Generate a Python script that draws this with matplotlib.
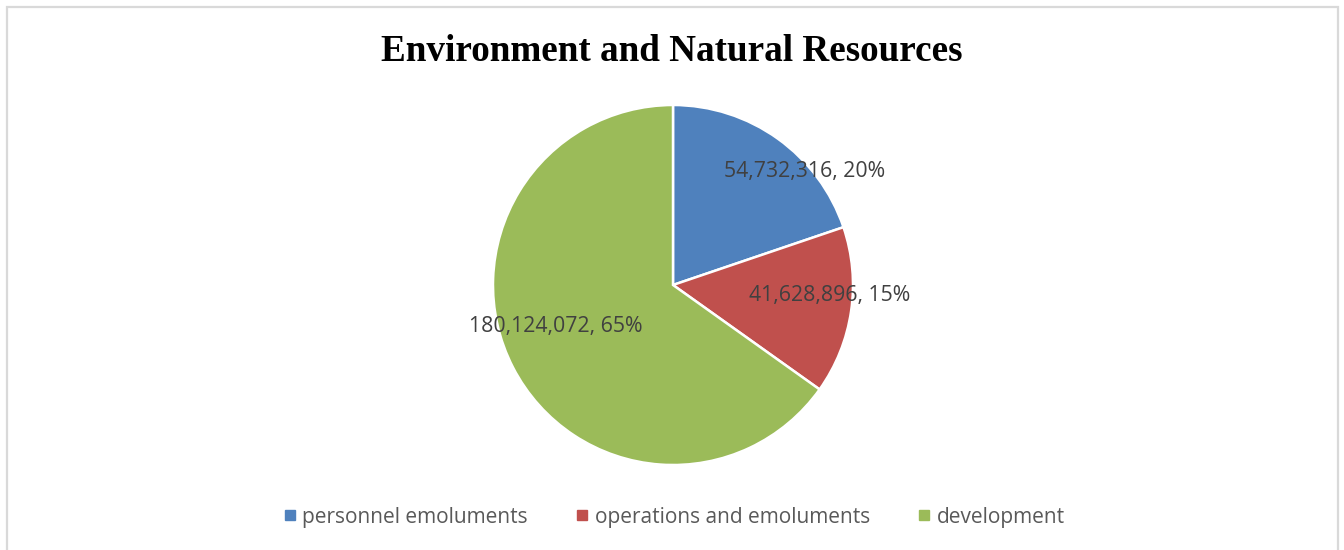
import matplotlib.pyplot as plt
from matplotlib.patches import Rectangle
from matplotlib.lines import Line2D

# Budget split for the sector
categories = ["personnel emoluments", "operations and emoluments", "development"]
amounts = [54732316, 41628896, 180124072]
percents = [20, 15, 65]
colors = ["#4F81BD", "#C0504D", "#9BBB59"]

# Where each data label sits, in units of the pie radius
label_xy = [(0.73, 0.63), (0.87, -0.06), (-0.65, -0.23)]

fig = plt.figure(figsize=(13.44, 5.5), dpi=100)

# light grey chart border (open at the bottom edge)
fig.patches.append(Rectangle((7 / 1344, -0.05), (1338 - 7) / 1344, 1.05 - 7 / 550,
                             transform=fig.transFigure, fill=False,
                             edgecolor="#d9d9d9", linewidth=1.6))

cx, cy, r = 673, 285, 180
ax = fig.add_axes([(cx - r) / 1344, (550 - cy - r) / 550, 2 * r / 1344, 2 * r / 550])
ax.pie(amounts, colors=colors, startangle=90, counterclock=False, radius=1,
       wedgeprops=dict(edgecolor="white", linewidth=1.8))
ax.set_xlim(-1, 1)
ax.set_ylim(-1, 1)
ax.set_aspect("equal")
ax.axis("off")

for (x, y), amt, pct in zip(label_xy, amounts, percents):
    ax.text(x, y, f"{amt:,}, {pct}%", ha="center", va="center",
            fontsize=15.3, color="#404040", family="Open Sans")

fig.text(0.5, 1 - 52 / 550, "Environment and Natural Resources", ha="center", va="center",
         fontsize=26.7, fontweight="bold", family="Liberation Serif", color="black")

handles = [Line2D([], [], marker="s", linestyle="none", markersize=6.5,
                  markerfacecolor=c, markeredgecolor=c) for c in colors]
fig.legend(handles, categories, loc="center", bbox_to_anchor=(0.5, 1 - 517 / 550),
           ncol=3, frameon=False, columnspacing=2.1, handletextpad=0.1, handlelength=1.0,
           prop={"family": "Open Sans", "size": 15}, labelcolor="#595959")

fig.savefig("out.png", dpi=100)
